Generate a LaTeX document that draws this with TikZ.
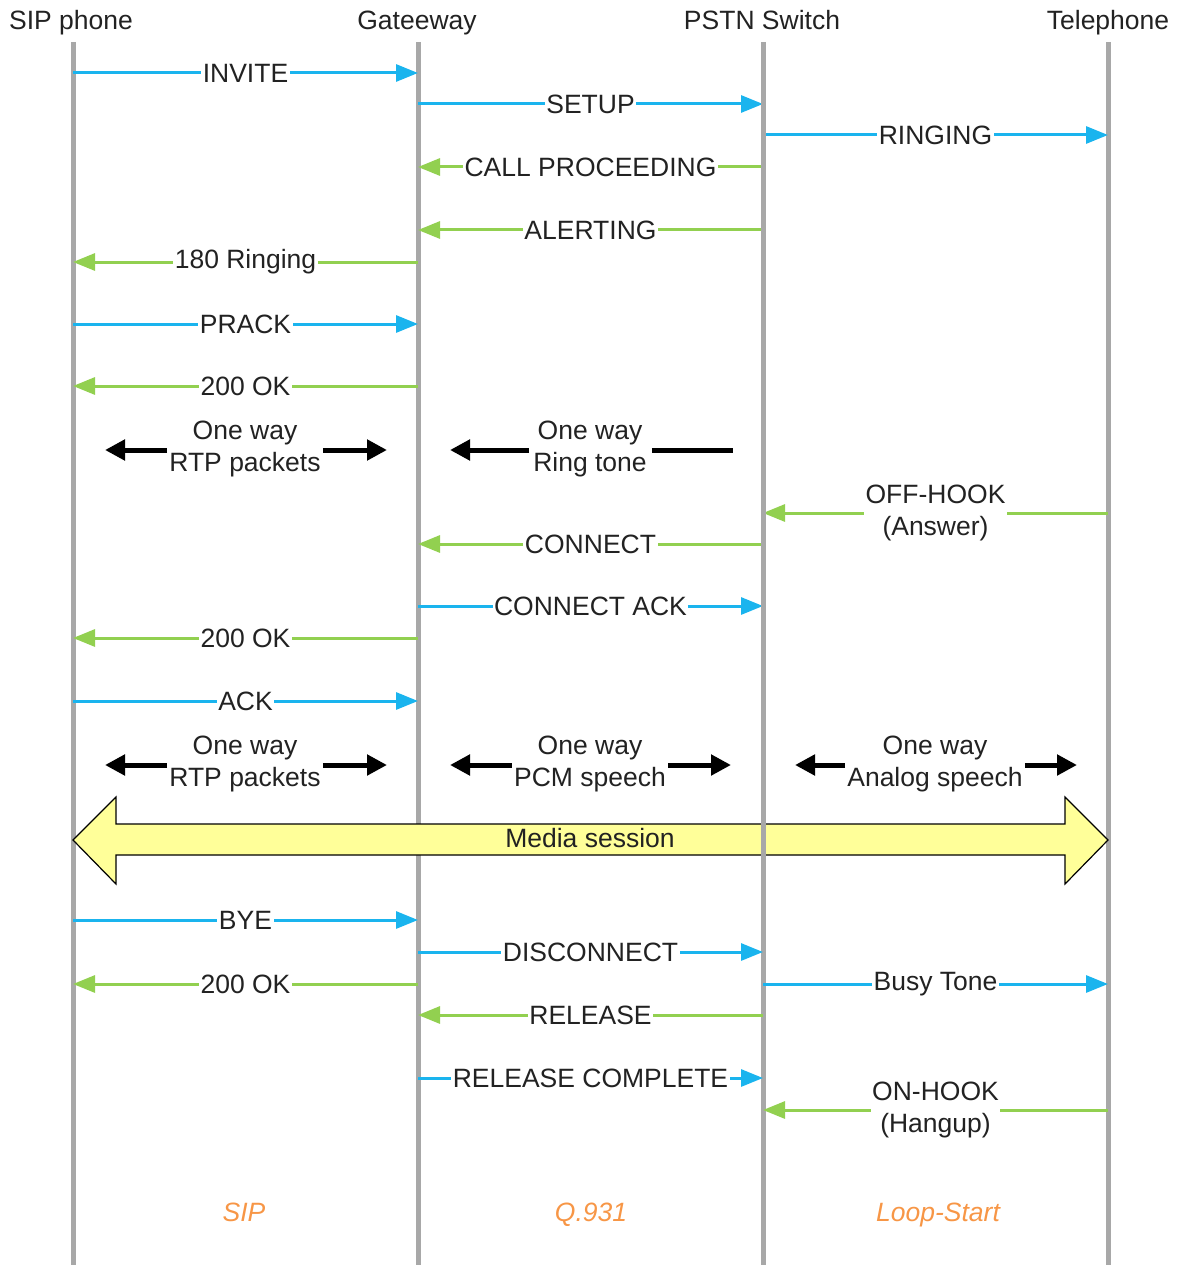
\documentclass[tikz,border=0pt]{standalone}
\usepackage{fontspec}
\setmainfont{Liberation Sans}
\usetikzlibrary{arrows.meta}
\definecolor{lifegray}{HTML}{A8A8A8}
\definecolor{msgblue}{HTML}{1AB4EE}
\definecolor{msggreen}{HTML}{92D050}
\definecolor{protoorange}{HTML}{F79646}
\definecolor{mediayellow}{HTML}{FFFF99}
\definecolor{txt}{HTML}{222222}
\tikzset{
  lifeline/.style={draw=lifegray, line width=5pt},
  header/.style={text=txt, font=\fontsize{26.5}{30}\selectfont, inner sep=0pt, anchor=base},
  lbl/.style={fill=white, text=txt, font=\fontsize{26.5}{30}\selectfont, inner xsep=1.5pt, inner ysep=1pt},
  lbltwo/.style={fill=white, text=txt, font=\fontsize{26.5}{31.5}\selectfont, align=center, inner xsep=1.5pt, inner ysep=0pt},
  plain/.style={text=txt, font=\fontsize{26.5}{31.5}\selectfont, align=center, inner sep=0pt},
  bluemsg/.style={draw=msgblue, line width=3pt, -{Triangle[length=22pt,width=17pt]}},
  greenmsg/.style={draw=msggreen, line width=3pt, -{Triangle[length=22pt,width=17pt]}},
  blackarrow/.style={draw=black, line width=5pt, -{Triangle[length=20pt,width=20pt]}},
  blackline/.style={draw=black, line width=5pt},
  proto/.style={text=protoorange, font=\fontsize{26.5}{30}\selectfont\itshape, anchor=base},
  media/.style={draw=black, line width=1.2pt, fill=mediayellow, line join=miter}
}
\begin{document}
\begin{tikzpicture}[x=1pt,y=-1pt]
\useasboundingbox (0,0) rectangle (1187,1265);
% lifeline anchors
\coordinate (sip) at (73,42);
\coordinate (gw) at (418,42);
\coordinate (sw) at (763,42);
\coordinate (tel) at (1108,42);
\coordinate (sipend) at (73,1265);
\coordinate (gwend) at (418,1265);
\coordinate (swend) at (763,1265);
\coordinate (telend) at (1108,1265);
% headers
\node[header] (hsip) at (71,30) {SIP phone};
\node[header] (hgw) at (417,30) {Gateeway};
\node[header] (hsw) at (762,30) {PSTN Switch};
\node[header] (htel) at (1108,30) {Telephone};
% lifelines (switch line drawn later, above the media arrow)
\draw[lifeline] (sip) -- (sipend);
\draw[lifeline] (gw) -- (gwend);
\draw[lifeline] (tel) -- (telend);

% messages
\draw[bluemsg] (sip |- 0,73) -- node[lbl]{INVITE} (gw |- 0,73);
\draw[bluemsg] (gw |- 0,104) -- node[lbl]{SETUP} (sw |- 0,104);
\draw[bluemsg] (sw |- 0,135) -- node[lbl]{RINGING} (tel |- 0,135);
\draw[greenmsg] (sw |- 0,167) -- node[lbl]{CALL PROCEEDING} (gw |- 0,167);
\draw[greenmsg] (sw |- 0,230) -- node[lbl]{ALERTING} (gw |- 0,230);
\draw[greenmsg] (gw |- 0,262) -- node[lbl]{180 Ringing} (sip |- 0,262);
\draw[bluemsg] (sip |- 0,324) -- node[lbl]{PRACK} (gw |- 0,324);
\draw[greenmsg] (gw |- 0,386) -- node[lbl]{200 OK} (sip |- 0,386);

% one way RTP packets (1)
\node[plain] (rtp1) at (245,449) {One way\\RTP packets};
\coordinate (rtp1l) at (105,450);
\coordinate (rtp1r) at (387,450);
\draw[blackarrow] (rtp1.west |- rtp1l) ++(-2,0) -- (rtp1l);
\draw[blackarrow] (rtp1.east |- rtp1r) ++(2,0) -- (rtp1r);
% one way ring tone
\node[plain] (ring) at (590,449) {One way\\Ring tone};
\coordinate (ringl) at (450,450);
\coordinate (ringr) at (733,450);
\draw[blackarrow] (ring.west |- ringl) ++(-4,0) -- (ringl);
\draw[blackline] (ring.east |- ringr) ++(5,0) -- (ringr);

% off-hook
\draw[greenmsg] (tel |- 0,513) -- node[lbltwo]{OFF-HOOK\\(Answer)} (sw |- 0,513);
\draw[greenmsg] (sw |- 0,544) -- node[lbl]{CONNECT} (gw |- 0,544);
\draw[bluemsg] (gw |- 0,606) -- node[lbl]{CONNECT ACK} (sw |- 0,606);
\draw[greenmsg] (gw |- 0,638) -- node[lbl]{200 OK} (sip |- 0,638);
\draw[bluemsg] (sip |- 0,701) -- node[lbl]{ACK} (gw |- 0,701);

% one way RTP packets (2)
\node[plain] (rtp2) at (245,764) {One way\\RTP packets};
\coordinate (rtp2l) at (105,765);
\coordinate (rtp2r) at (387,765);
\draw[blackarrow] (rtp2.west |- rtp2l) ++(-2,0) -- (rtp2l);
\draw[blackarrow] (rtp2.east |- rtp2r) ++(2,0) -- (rtp2r);
% PCM speech
\node[plain] (pcm) at (590,764) {One way\\PCM speech};
\coordinate (pcml) at (450,765);
\coordinate (pcmr) at (731,765);
\draw[blackarrow] (pcm.west |- pcml) ++(-2,0) -- (pcml);
\draw[blackarrow] (pcm.east |- pcmr) ++(2,0) -- (pcmr);
% Analog speech
\node[plain] (ana) at (935,764) {One way\\Analog speech};
\coordinate (anal) at (795,765);
\coordinate (anar) at (1077,765);
\draw[blackarrow] (ana.west |- anal) ++(-2,0) -- (anal);
\draw[blackarrow] (ana.east |- anar) ++(2,0) -- (anar);

% media session
\draw[media] (73,840) -- (116,797) -- (116,824) -- (1065,824) -- (1065,797)
  -- (1108,840) -- (1065,884) -- (1065,855) -- (116,855) -- (116,884) -- cycle;
\node[plain] (media) at (590,838) {Media session};
\draw[lifeline] (sw) -- (swend);

% teardown
\draw[bluemsg] (sip |- 0,920) -- node[lbl]{BYE} (gw |- 0,920);
\draw[bluemsg] (gw |- 0,952) -- node[lbl]{DISCONNECT} (sw |- 0,952);
\draw[greenmsg] (gw |- 0,984) -- node[lbl]{200 OK} (sip |- 0,984);
\draw[bluemsg] (sw |- 0,984) -- node[lbl]{Busy Tone} (tel |- 0,984);
\draw[greenmsg] (sw |- 0,1015) -- node[lbl]{RELEASE} (gw |- 0,1015);
\draw[bluemsg] (gw |- 0,1078) -- node[lbl]{RELEASE COMPLETE} (sw |- 0,1078);
\draw[greenmsg] (tel |- 0,1110) -- node[lbltwo]{ON-HOOK\\(Hangup)} (sw |- 0,1110);

% protocols
\node[proto] (psip) at (244,1221) {SIP};
\node[proto] (pq) at (591,1221) {Q.931};
\node[proto] (pls) at (938,1221) {Loop-Start};
\end{tikzpicture}
\end{document}
